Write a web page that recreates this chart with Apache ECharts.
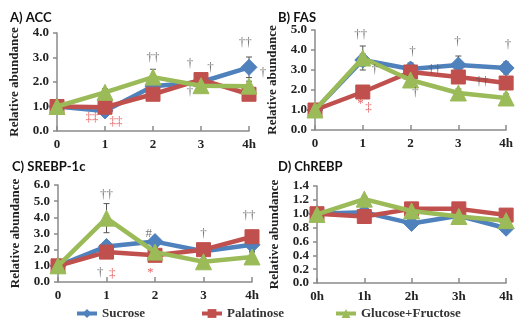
<!DOCTYPE html>
<html><head><meta charset="utf-8">
<script src="https://cdn.jsdelivr.net/npm/echarts@6/dist/echarts.min.js"></script>
<style>html,body{margin:0;padding:0;background:#fff}#chart{width:516px;height:320px}</style>
</head><body><div id="chart"></div>
<script>
// time points (hours) and tick labels
var hours = [0, 1, 2, 3, 4];
var ticksABC = ['0', '1', '2', '3', '4h'];
var ticksD = ['0h', '1h', '2h', '3h', '4h'];
var seriesNames = ['Sucrose', 'Palatinose', 'Glucose+Fructose'];
var colors = ['#4F81BD', '#C0504D', '#9BBB59'];
var symbols = ['diamond', 'rect', 'triangle'];

// A) ACC
var accSuc = [1.0, 0.82, 1.83, 2.0, 2.6];
var accPal = [1.0, 0.97, 1.5, 2.1, 1.5];
var accGF  = [1.0, 1.58, 2.2, 1.85, 1.83];
var accErrSuc = [0.05, 0.1, 0.2, 0.3, 0.42];
var accErrPal = [0.05, 0.15, 0.2, 0.2, 0.25];
var accErrGF  = [0.05, 0.15, 0.32, 0.15, 0.2];

// B) FAS
var fasSuc = [1.0, 3.5, 3.05, 3.25, 3.1];
var fasPal = [1.0, 1.9, 2.9, 2.65, 2.35];
var fasGF  = [1.0, 3.6, 2.5, 1.85, 1.6];
var fasErrSuc = [0.05, 0.3, 0.3, 0.45, 0.3];
var fasErrPal = [0.05, 0.3, 0.4, 0.3, 0.3];
var fasErrGF  = [0.05, 0.6, 0.3, 0.2, 0.2];

// C) SREBP-1c
var srebpSuc = [1.0, 2.2, 2.5, 1.9, 2.3];
var srebpPal = [1.0, 1.85, 1.65, 2.0, 2.8];
var srebpGF  = [1.0, 3.95, 1.85, 1.25, 1.55];
var srebpErrSuc = [0.05, 0.3, 0.3, 0.3, 0.4];
var srebpErrPal = [0.05, 0.3, 0.2, 0.3, 0.4];
var srebpErrGF  = [0.05, 0.9, 0.3, 0.2, 0.3];

// D) ChREBP
var chrebpSuc = [1.0, 1.02, 0.86, 0.97, 0.79];
var chrebpPal = [1.0, 0.96, 1.07, 1.07, 0.98];
var chrebpGF  = [0.99, 1.21, 1.04, 0.96, 0.9];
var chrebpErr = [0.02, 0.04, 0.05, 0.04, 0.04];

// significance marks: [hour position, value, text, colour]
var annA = [[0.73, 0.55, '‡‡', '#e03a3a'], [1.23, 0.38, '‡‡', '#e03a3a'], [2.0, 3.0, '††', '#555'],
  [2.77, 2.75, '†', '#555'], [3.2, 2.6, '†', '#555'], [2.77, 1.6, '†', '#555'], [3.92, 3.6, '††', '#555'], [4.29, 2.4, '†', '#555']];
var annB = [[0.96, 4.75, '††', '#555'], [1.25, 3.0, '†', '#555'], [0.95, 1.3, '*', '#e03a3a'], [1.12, 1.1, '‡', '#e03a3a'],
  [2.04, 3.9, '†', '#555'], [2.1, 1.85, '†', '#555'], [2.5, 3.0, '††', '#555'], [2.98, 4.4, '†', '#555'],
  [3.5, 2.4, '††', '#555'], [4.04, 4.25, '†', '#555']];
var annC = [[1.0, 5.4, '††', '#555'], [1.87, 3.0, '#', '#555'], [3.0, 3.0, '†', '#555'], [3.94, 4.1, '††', '#555'],
  [0.87, 0.6, '†', '#555'], [1.12, 0.55, '‡', '#e03a3a'], [1.9, 0.6, '*', '#e03a3a']];

var panels = [
  {title: 'A) ACC', tx: 5, ty: 6, grid: {left: 57, top: 33, width: 192, height: 98}, max: 4, interval: 1, digits: 1,
   ticks: ticksABC, vals: [accSuc, accPal, accGF], errs: [accErrSuc, accErrPal, accErrGF], ann: annA},
  {title: 'B) FAS', tx: 273, ty: 6, grid: {left: 315, top: 30, width: 196, height: 100}, max: 5, interval: 1, digits: 1,
   ticks: ticksABC, vals: [fasSuc, fasPal, fasGF], errs: [fasErrSuc, fasErrPal, fasErrGF], ann: annB},
  {title: 'C) SREBP-1c', tx: 7, ty: 155, grid: {left: 58, top: 185, width: 194, height: 97}, max: 6, interval: 1, digits: 1,
   ticks: ticksABC, vals: [srebpSuc, srebpPal, srebpGF], errs: [srebpErrSuc, srebpErrPal, srebpErrGF], ann: annC},
  {title: 'D) ChREBP', tx: 273, ty: 155, grid: {left: 317, top: 186, width: 193, height: 97}, max: 1.4, interval: 0.2, digits: 1,
   ticks: ticksD, vals: [chrebpSuc, chrebpPal, chrebpGF], errs: [chrebpErr, chrebpErr, chrebpErr], ann: []}
];

var serif = '"Liberation Serif", "DejaVu Serif", serif';
var axisColor = '#8a8a8a';
var option = {
  backgroundColor: '#fff',
  animation: false,
  title: [], grid: [], xAxis: [], yAxis: [], series: [],
  legend: seriesNames.map(function (n, i) {
    return {
      data: [n], left: [70, 195, 329][i], top: 302, itemWidth: 20, itemHeight: 11, itemGap: 5,
      lineStyle: {width: 4},
      textStyle: {fontFamily: serif, fontWeight: 'bold', fontSize: 13, color: '#333'}
    };
  })
};

panels.forEach(function (p, k) {
  option.title.push({text: p.title, left: p.tx, top: p.ty,
    textStyle: {fontFamily: 'Lato, "Open Sans", sans-serif', fontWeight: 'bold', fontSize: 13, color: '#111'}});
  option.grid.push(Object.assign({containLabel: false}, p.grid));
  option.xAxis.push({
    type: 'value', gridIndex: k, min: 0, max: 4, interval: 1,
    axisLine: {lineStyle: {color: axisColor, width: 1.5}},
    axisTick: {inside: true, length: 5, lineStyle: {color: axisColor, width: 1.5}},
    splitLine: {show: false},
    axisLabel: {margin: 7, fontFamily: serif, fontWeight: 'bold', fontSize: 13, color: '#222',
      formatter: function (v) { return p.ticks[v]; }}
  });
  option.yAxis.push({
    type: 'value', gridIndex: k, min: 0, max: p.max, interval: p.interval,
    name: 'Relative abundance', nameLocation: 'middle', nameGap: 36,
    nameTextStyle: {fontFamily: serif, fontWeight: 'bold', fontSize: 13, color: '#222'},
    axisLine: {show: true, lineStyle: {color: axisColor, width: 1.5}},
    axisTick: {show: true, length: 4, lineStyle: {color: axisColor, width: 1.5}},
    splitLine: {show: false},
    axisLabel: {margin: 8, fontFamily: serif, fontWeight: 'bold', fontSize: 13, color: '#222',
      formatter: function (v) { return v.toFixed(p.digits); }}
  });
  p.vals.forEach(function (vals, s) {
    var err = p.errs[s];
    option.series.push({
      type: 'custom', xAxisIndex: k, yAxisIndex: k, z: 1, silent: true,
      data: hours.map(function (h, i) { return [h, vals[i], err[i]]; }),
      renderItem: function (params, api) {
        var x = api.value(0), y = api.value(1), e = api.value(2);
        var top = api.coord([x, y + e]), bot = api.coord([x, y - e]);
        var st = {stroke: '#555', lineWidth: 1};
        return {type: 'group', children: [
          {type: 'line', shape: {x1: top[0], y1: top[1], x2: bot[0], y2: bot[1]}, style: st},
          {type: 'line', shape: {x1: top[0] - 3, y1: top[1], x2: top[0] + 3, y2: top[1]}, style: st},
          {type: 'line', shape: {x1: bot[0] - 3, y1: bot[1], x2: bot[0] + 3, y2: bot[1]}, style: st}
        ]};
      }
    });
    option.series.push({
      name: seriesNames[s], type: 'line', xAxisIndex: k, yAxisIndex: k, z: 2 + s,
      data: hours.map(function (h, i) { return [h, vals[i]]; }),
      symbol: symbols[s], symbolSize: s === 1 ? 14 : 16,
      lineStyle: {color: colors[s], width: 4.5},
      itemStyle: {color: colors[s], borderColor: colors[s]}
    });
  });
  if (p.ann.length) {
    option.series.push({
      type: 'scatter', xAxisIndex: k, yAxisIndex: k, z: 10, clip: false, silent: true,
      symbolSize: 1, itemStyle: {color: 'rgba(0,0,0,0)'},
      data: p.ann.map(function (a) { return {value: [a[0], a[1]], label: {formatter: a[2], color: a[3]}}; }),
      label: {show: true, position: 'inside', fontFamily: serif, fontSize: 13}
    });
  }
});

var chart = echarts.init(document.getElementById('chart'));
chart.setOption(option);
</script>
</body></html>
